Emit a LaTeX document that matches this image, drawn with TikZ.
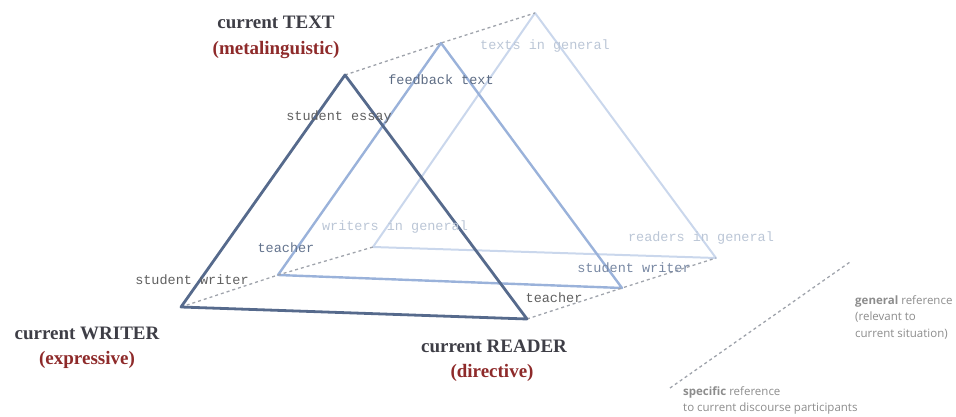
\documentclass[tikz,border=0pt]{standalone}
\usepackage{fontspec}
\setmainfont{Liberation Serif}
\setsansfont{Open Sans}
\setmonofont{Liberation Mono}
\definecolor{darktri}{HTML}{566A8C}
\definecolor{midtri}{HTML}{9AB2DA}
\definecolor{lighttri}{HTML}{CAD7EC}
\definecolor{funcred}{HTML}{8E2A2A}
\definecolor{roletext}{HTML}{3E3E46}
\definecolor{dashgray}{HTML}{A0A4AC}
\tikzset{
  role/.style={font=\fontsize{19}{21}\selectfont\bfseries, text=roletext, inner sep=0pt},
  func/.style={font=\fontsize{19}{21}\selectfont\bfseries, text=funcred, inner sep=0pt},
  spec/.style={font=\fontsize{13.5}{15}\ttfamily, inner sep=0pt},
  note/.style={font=\fontsize{11.5}{16.5}\sffamily, text=gray!90, align=left, inner sep=0pt},
  link/.style={dashed, dashgray, line width=1.3pt}
}
\begin{document}
\begin{tikzpicture}[x=1pt, y=-1pt]
            \useasboundingbox (0,0) rectangle (956,417);
            %nodes
            \coordinate (t1) at (345, 75);
            \coordinate (w1) at (181, 307);
            \coordinate (r1) at (527, 319);
            \coordinate (t2) at (441, 43);
            \coordinate (w2) at (278, 275);
            \coordinate (r2) at (622, 288);
            \coordinate (t3) at (535, 13);
            \coordinate (w3) at (373, 247);
            \coordinate (r3) at (716, 258);
            \coordinate (s) at (670, 388);
            \coordinate (g) at (850, 262);

            %edges
            \draw[lighttri, line width=2pt, line join=round] (t3) -- (w3) -- (r3) -- cycle;
            \draw[midtri, line width=2.4pt, line join=round] (t2) -- (w2) -- (r2) -- cycle;
            \draw[link] (t1) -- (t2) -- (t3);
            \draw[link] (w1) -- (w2) -- (w3);
            \draw[link] (r1) -- (r2) -- (r3);
            \draw[darktri, line width=2.8pt, line join=round] (t1) -- (w1) -- (r1) -- cycle;
            \draw[link] (s) -- (g);

            %labels
            \node[role] (ctext) at (276, 22) {current TEXT};
            \node[func] (meta) at (276, 50) {(metalinguistic)};
            \node[role] (cwriter) at (87, 333) {current WRITER};
            \node[func] (expr) at (87, 360) {(expressive)};
            \node[role] (creader) at (494, 346) {current READER};
            \node[func] (dir) at (492, 373) {(directive)};

            \node[spec, text=gray!75!black] (essay) at (339, 117) {student essay};
            \node[spec, text=midtri!60!black] (feedback) at (441, 80) {feedback text};
            \node[spec, text=lighttri!80!gray] (texts) at (545, 46) {texts in general};
            \node[spec, text=lighttri!80!gray] (writers) at (395, 227) {writers in general};
            \node[spec, text=midtri!65!black] (teachw) at (286, 248) {teacher};
            \node[spec, text=gray!75!black] (studw) at (192, 280) {student writer};
            \node[spec, text=lighttri!80!gray] (readers) at (701, 238) {readers in general};
            \node[spec, text=darktri!80] (studr) at (634, 268) {student writer};
            \node[spec, text=gray!75!black] (teachr) at (554, 298) {teacher};

            \node[note, anchor=north west] (gen) at (855, 295) {\textbf{general} reference\\(relevant to\\current situation)};
            \node[note, anchor=north west] (spc) at (683, 386) {\textbf{specific} reference\\to current discourse participants};
        \end{tikzpicture}
\end{document}
